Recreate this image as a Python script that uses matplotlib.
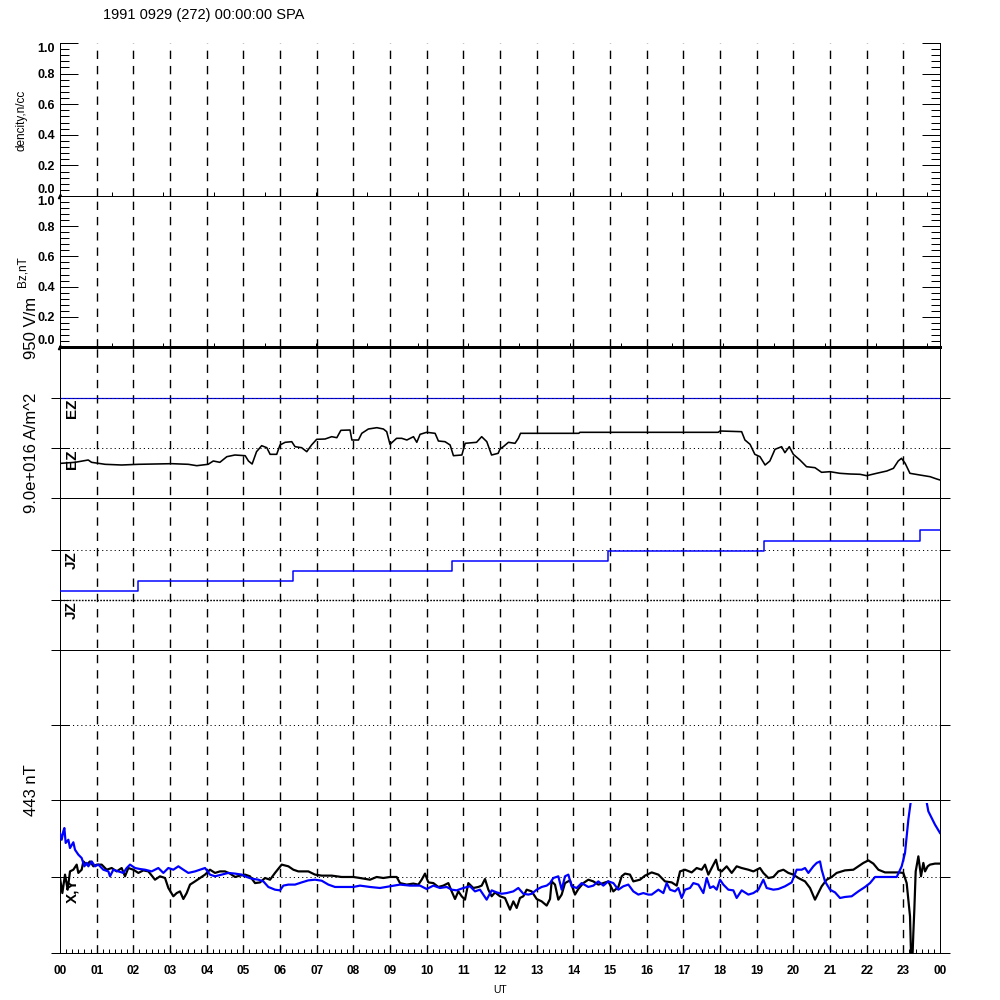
import numpy as np
import matplotlib
matplotlib.use('Agg')
import matplotlib.pyplot as plt
from matplotlib.ticker import MultipleLocator

plt.rcParams['font.family'] = ['Liberation Sans', 'DejaVu Sans']
plt.rcParams['lines.scale_dashes'] = False

title = '1991 0929 (272) 00:00:00 SPA'
hour_labels = ['%02d' % (h % 24) for h in range(25)]

# upper panels only hold the first sample
den_hours = [0.0]
den_vals = [0.0]
bz_hours = [0.0]
bz_vals = [0.0]

# EZ (V/m), scale 950 V/m
ez_hours = [0.03, 0.41, 0.77, 0.86, 1.23, 1.68, 2.13, 2.59, 3.05, 3.50,
            3.73, 4.04, 4.18, 4.36, 4.55, 4.77, 5.05, 5.14, 5.24, 5.36,
            5.50, 5.64, 5.73, 5.91, 6.00, 6.14, 6.32, 6.41, 6.59, 6.73,
            6.86, 7.00, 7.23, 7.41, 7.55, 7.66, 7.91, 7.96, 8.14, 8.23,
            8.41, 8.64, 8.82, 8.91, 9.00, 9.18, 9.32, 9.46, 9.64, 9.73,
            9.82, 10.00, 10.23, 10.32, 10.50, 10.64, 10.73, 10.96, 11.05, 11.36,
            11.50, 11.64, 11.77, 11.95, 12.00, 12.09, 12.23, 12.41, 12.50, 12.56,
            14.15, 14.18, 17.95, 18.00, 18.59, 18.68, 18.82, 18.95, 19.09, 19.23,
            19.36, 19.50, 19.68, 19.77, 19.89, 20.00, 20.18, 20.36, 20.59, 20.77,
            21.00, 21.27, 21.55, 21.82, 22.00, 22.27, 22.55, 22.73, 22.86, 22.95,
            23.05, 23.18, 23.45, 23.73, 23.91, 24.00]
ez_vals = [-291, -272, -228, -272, -310, -323, -310, -304, -298, -310,
           -336, -310, -247, -272, -165, -133, -146, -247, -304, -70,
           44, 6, -120, -120, 57, 108, 120, 25, 6, -70,
           57, 165, 171, 215, 196, 336, 342, 152, 152, 279,
           361, 386, 361, 310, 70, 184, 184, 152, 215, 108,
           260, 298, 279, 133, 120, 57, -146, -133, 89, 108,
           215, 120, -133, -101, -19, 25, 108, 89, 184, 279,
           279, 298, 298, 323, 310, 152, 70, -120, -165, -323,
           -247, -25, 25, -89, 25, -120, -228, -355, -374, -462,
           -450, -481, -494, -500, -526, -481, -437, -386, -247, -196,
           -291, -481, -513, -545, -589, -608]

# JZ (A/m^2), scale 9.0e+016
jz_hours = [0.0, 2.13, 6.35, 10.69, 14.95, 19.2, 23.45, 24.0]
jz_vals = [-7.38e16, -5.58e16, -3.78e16, -1.98e16, -0.18e16, 1.62e16, 3.6e16, 3.6e16]

# X (black) and Y (blue) in nT, scale 443 nT
x_hours = [0.000, 0.064, 0.137, 0.209, 0.273, 0.364, 0.455, 0.500, 0.591, 0.637,
           0.728, 0.819, 0.910, 1.000, 1.137, 1.273, 1.410, 1.546, 1.682, 1.773,
           1.864, 2.000, 2.137, 2.273, 2.410, 2.591, 2.728, 2.864, 2.955, 3.091,
           3.182, 3.273, 3.364, 3.455, 3.546, 3.682, 3.819, 3.955, 4.091, 4.228,
           4.364, 4.500, 4.637, 4.773, 4.910, 5.046, 5.182, 5.319, 5.455, 5.591,
           5.728, 5.864, 6.046, 6.228, 6.364, 6.500, 6.773, 6.955, 7.137, 7.410,
           7.682, 8.000, 8.182, 8.455, 8.636, 8.818, 9.000, 9.182, 9.273, 9.455,
           9.636, 9.773, 9.864, 9.955, 10.045, 10.182, 10.318, 10.455, 10.591, 10.682,
           10.773, 10.864, 10.955, 11.045, 11.136, 11.273, 11.409, 11.500, 11.591, 11.682,
           11.773, 11.864, 12.000, 12.136, 12.273, 12.364, 12.455, 12.545, 12.636, 12.727,
           12.864, 13.000, 13.136, 13.273, 13.364, 13.409, 13.500, 13.591, 13.682, 13.773,
           13.909, 14.045, 14.136, 14.273, 14.409, 14.545, 14.682, 14.818, 14.954, 15.091,
           15.227, 15.318, 15.409, 15.545, 15.636, 15.818, 15.954, 16.137, 16.319, 16.500,
           16.682, 16.819, 16.910, 17.046, 17.228, 17.364, 17.500, 17.591, 17.682, 17.773,
           17.891, 17.955, 18.046, 18.182, 18.319, 18.455, 18.591, 18.773, 18.910, 19.091,
           19.182, 19.319, 19.455, 19.591, 19.728, 19.864, 20.000, 20.137, 20.319, 20.455,
           20.591, 20.682, 20.773, 20.910, 21.046, 21.182, 21.410, 21.637, 21.773, 21.910,
           22.046, 22.182, 22.319, 22.500, 22.864, 23.000, 23.091, 23.137, 23.182, 23.228,
           23.273, 23.300, 23.337, 23.410, 23.482, 23.546, 23.592, 23.664, 23.728, 23.864,
           24.000]
x_vals = [0, -89, 20, -69, 39, 49, 79, 30, 49, 98,
          79, 98, 69, 79, 79, 49, 59, 39, 59, 10,
          59, 49, 30, 45, 39, -10, 10, 0, -59, -108,
          -89, -79, -124, -89, -39, -20, 0, 20, 49, 30,
          39, 39, 26, 6, 14, 20, 10, -30, -26, 0,
          -10, 30, 79, 69, 49, 39, 39, 20, 14, 14,
          6, 6, 0, -10, 6, 0, 6, 6, -30, -39,
          -33, -39, -10, 26, -26, -30, -53, -45, -30, -79,
          -124, -79, -108, -128, -30, -59, -53, -45, -6, -69,
          -108, -85, -108, -118, -187, -138, -177, -118, -108, -69,
          -79, -124, -138, -163, -124, -20, -39, -128, -98, -30,
          -14, -98, -65, -30, -10, -20, -39, -30, -20, -79,
          -53, 10, 26, 20, -20, -10, 14, 33, 20, -20,
          -26, -45, 39, 49, 33, 59, 49, 79, 20, 59,
          108, 49, 39, 69, 30, 69, 59, 49, 39, 59,
          30, 0, 6, 39, 49, 30, 20, 0, -20, -59,
          -128, -89, -49, -10, 6, 30, 45, 49, 69, 89,
          104, 85, 49, 33, 33, 30, -30, -128, -226, -600,
          -325, -187, 39, 128, 10, 89, 39, 69, 79, 85,
          85]
y_hours = [0.000, 0.046, 0.091, 0.119, 0.155, 0.228, 0.273, 0.364, 0.409, 0.500,
           0.591, 0.664, 0.728, 0.773, 0.864, 0.955, 1.046, 1.182, 1.319, 1.364,
           1.455, 1.591, 1.728, 1.819, 1.910, 2.046, 2.182, 2.319, 2.500, 2.682,
           2.819, 2.955, 3.091, 3.228, 3.364, 3.500, 3.682, 3.819, 3.955, 4.091,
           4.228, 4.410, 4.591, 4.773, 4.955, 5.091, 5.228, 5.410, 5.546, 5.682,
           5.864, 6.000, 6.091, 6.228, 6.410, 6.591, 6.773, 6.955, 7.137, 7.319,
           7.500, 7.682, 8.000, 8.182, 8.455, 8.727, 9.000, 9.273, 9.545, 9.818,
           10.000, 10.182, 10.364, 10.545, 10.682, 10.818, 11.000, 11.182, 11.318, 11.454,
           11.636, 11.773, 11.909, 12.045, 12.182, 12.364, 12.500, 12.636, 12.773, 12.864,
           13.000, 13.136, 13.273, 13.364, 13.455, 13.591, 13.682, 13.773, 13.864, 13.954,
           14.091, 14.227, 14.409, 14.545, 14.682, 14.818, 14.954, 15.091, 15.227, 15.364,
           15.500, 15.636, 15.773, 15.909, 16.045, 16.137, 16.319, 16.455, 16.546, 16.637,
           16.773, 16.864, 16.955, 17.046, 17.182, 17.273, 17.410, 17.546, 17.637, 17.728,
           17.819, 17.910, 18.000, 18.091, 18.228, 18.364, 18.455, 18.591, 18.773, 18.910,
           19.046, 19.182, 19.273, 19.455, 19.591, 19.773, 19.955, 20.091, 20.228, 20.319,
           20.410, 20.546, 20.637, 20.728, 20.773, 20.864, 21.000, 21.137, 21.273, 21.410,
           21.591, 21.773, 21.955, 22.091, 22.228, 22.410, 22.591, 22.819, 22.955, 23.046,
           23.137, 23.200, 23.420, 23.637, 23.682, 23.773, 23.864, 24.000]
y_vals = [266, 226, 276, 295, 207, 226, 177, 211, 167, 138,
          118, 69, 89, 69, 98, 69, 79, 49, 39, 10,
          49, 39, 30, 59, 79, 59, 53, 49, 39, 59,
          30, 59, 49, 69, 49, 30, 39, 49, 59, 20,
          10, 20, 30, 26, 20, 6, -4, -10, -20, -53,
          -69, -73, -45, -39, -39, -26, -14, -10, -16, -39,
          -53, -53, -53, -45, -53, -59, -49, -39, -45, -45,
          -65, -45, -59, -53, -69, -73, -59, -49, -79, -69,
          -128, -73, -85, -93, -89, -79, -59, -93, -98, -93,
          -69, -53, -45, -30, 0, 10, -69, 10, 20, -49,
          -59, -30, -53, -45, -20, -45, -20, -30, -69, -49,
          -39, -79, -98, -89, -98, -98, -69, -89, -30, -69,
          -79, -59, -118, -69, -59, -30, -39, -89, 0, -59,
          -49, -69, -10, -39, -69, -73, -118, -73, -98, -89,
          -69, -10, -59, -69, -65, -49, -26, 49, 49, 59,
          30, 69, 89, 98, 49, -20, -69, -85, -118, -112,
          -108, -79, -53, -30, 6, 6, 6, 6, 69, 148,
          345, 447, 760, 447, 394, 354, 315, 266]

ez_scale = 950.0
jz_scale = 9.0e16
xy_scale = 443.0

PX = 0.72  # one pixel in points at dpi 100
DASH = (0, (6, 5))

fig = plt.figure(figsize=(10, 10), dpi=100)


def panel(top, bottom):
    return fig.add_axes([0.06, 1 - bottom / 1000, 0.88, (bottom - top) / 1000])


def hour_lines(ax):
    for h in range(1, 24):
        ax.axvline(h, color='black', lw=1.4 * PX, ls=DASH, zorder=1)


# ---- upper two panels
ax_den = panel(43, 196)
ax_bz = panel(196, 347)
for ax, t, v, lab, yc in [(ax_den, den_hours, den_vals, 'dencity,n/cc', 120),
                          (ax_bz, bz_hours, bz_vals, 'Bz,nT', 272)]:
    ax.set_xlim(0, 24)
    ax.set_ylim(0, 1)
    ax.set_yticks(np.arange(0, 1.01, 0.2))
    ax.set_yticklabels(['0.0', '0.2', '0.4', '0.6', '0.8', '1.0'],
                       fontsize=9, fontweight='bold')
    ax.yaxis.set_minor_locator(MultipleLocator(0.04))
    ax.tick_params(axis='y', which='both', direction='in', left=True, right=True,
                   width=PX, pad=3.5)
    ax.tick_params(axis='y', which='major', length=13)
    ax.tick_params(axis='y', which='minor', length=6.5)
    ax.set_xticks(np.arange(5105, 86400, 5000) / 3600)
    ax.tick_params(axis='x', direction='in', length=3, width=PX,
                   labelbottom=False, top=False)
    lbls = ax.get_yticklabels()
    lbls[0].set_verticalalignment('bottom')
    lbls[-1].set_verticalalignment('top')
    for s in ax.spines.values():
        s.set_linewidth(PX)
    hour_lines(ax)
    ax.plot(t, v, 'k^', ms=3, clip_on=False)
    fig.text(0.022, 1 - yc / 1000, lab, rotation=90, ha='center', va='center',
             fontsize=8.5)
ax_den.spines['top'].set_visible(False)
ax_bz.spines['bottom'].set_linewidth(3 * PX)

fig.text(0.103, 1 - 15 / 1000, title, ha='left', va='center', fontsize=10.5)

# ---- lower stacked region (frame in pixel rows)
ax_low = panel(347, 953)
ax_low.set_xlim(0, 24)
ax_low.set_ylim(953, 347)
for s in ax_low.spines.values():
    s.set_linewidth(PX)
ax_low.spines['top'].set_linewidth(3 * PX)
tick_rows = [398, 448, 498, 550, 600, 650, 725, 800, 877, 953]
ax_low.set_yticks(tick_rows)
ax_low.tick_params(axis='y', direction='inout', length=13, width=PX,
                   labelleft=False, right=False)
ax_low.set_xticks(range(25))
ax_low.set_xticklabels(hour_labels, fontsize=8.5, fontweight='bold')
ax_low.xaxis.set_minor_locator(MultipleLocator(1 / 6))
ax_low.tick_params(axis='x', which='both', direction='in', width=PX, top=False)
ax_low.tick_params(axis='x', which='major', length=3, pad=9)
ax_low.tick_params(axis='x', which='minor', length=3)
hour_lines(ax_low)

for row in [498, 650, 800]:
    ax_low.axhline(row, color='black', lw=PX)
ax_low.axhline(398, color='blue', lw=1.2 * PX)
for row in [398, 448, 550, 725, 877]:
    ax_low.axhline(row, color='black', lw=PX, ls=(0, (0.8, 2.2)))
ax_low.axhline(600, color='black', lw=1.4 * PX, ls=(0, (1.2, 1.0)))

ax_r = ax_low.twinx()
ax_r.set_ylim(953, 347)
ax_r.set_yticks(tick_rows)
ax_r.tick_params(axis='y', direction='out', length=7.2, width=PX, labelright=False)
for s in ax_r.spines.values():
    s.set_visible(False)

fig.text(0.5, 1 - 990 / 1000, 'UT', ha='center', va='center', fontsize=7.5)

# ---- traces
ax_ez = panel(398, 498)
ax_ez.set_xlim(0, 24)
ax_ez.set_ylim(-ez_scale, ez_scale)
ax_ez.set_axis_off()
ax_ez.plot(ez_hours, ez_vals, color='black', lw=1.6 * PX)

ax_jz = panel(500, 600)
ax_jz.set_xlim(0, 24)
ax_jz.set_ylim(-jz_scale, jz_scale)
ax_jz.set_axis_off()
ax_jz.plot(jz_hours, jz_vals, color='blue', lw=1.5 * PX, drawstyle='steps-post')

ax_xy = panel(803, 953)
ax_xy.set_xlim(0, 24)
ax_xy.set_ylim(-xy_scale, xy_scale)
ax_xy.set_axis_off()
ax_xy.plot(x_hours, x_vals, color='black', lw=2.2 * PX)
ax_xy.plot(y_hours, y_vals, color='blue', lw=2.2 * PX)

# ---- channel labels
fig.text(0.031, 1 - 328 / 1000, '950 V/m', rotation=90, ha='center', va='center', fontsize=12)
fig.text(0.031, 1 - 453 / 1000, '9.0e+016 A/m^2', rotation=90, ha='center', va='center', fontsize=12)
fig.text(0.031, 1 - 790 / 1000, '443 nT', rotation=90, ha='center', va='center', fontsize=12)
for row, name in [(399, 'EZ'), (449, 'EZ'), (551, 'JZ'), (601, 'JZ'), (878, 'X,Y')]:
    fig.text(0.072, 1 - row / 1000, name, rotation=90, ha='center', va='top',
             fontsize=11, fontweight='bold')

fig.savefig('out.png', dpi=100)
